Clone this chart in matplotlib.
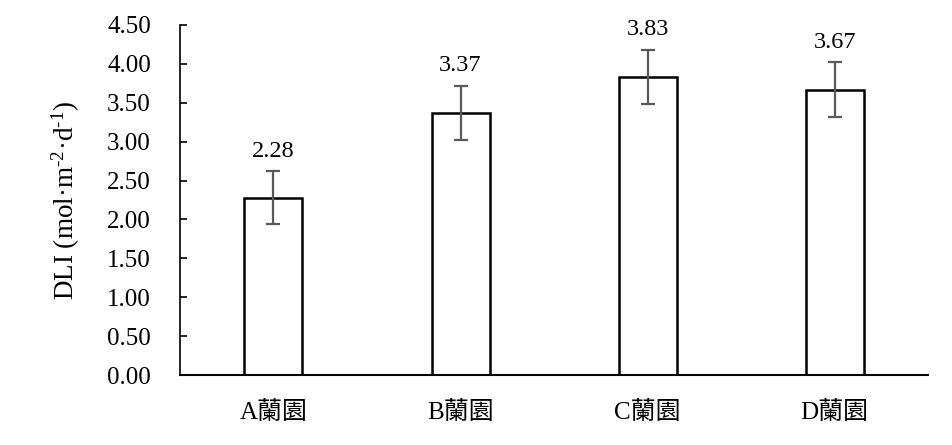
import numpy as np
import matplotlib
matplotlib.use("Agg")
import matplotlib.pyplot as plt

plt.rcParams['font.family'] = ['Liberation Serif', 'Noto Sans CJK TC']
plt.rcParams['mathtext.fontset'] = 'custom'
plt.rcParams['mathtext.rm'] = 'Liberation Serif'
plt.rcParams['mathtext.default'] = 'regular'

categories = ['A蘭園', 'B蘭園', 'C蘭園', 'D蘭園']
dli = [2.28, 3.37, 3.83, 3.67]
dli_err = [0.34, 0.35, 0.35, 0.35]
y_ticks = [0.0, 0.5, 1.0, 1.5, 2.0, 2.5, 3.0, 3.5, 4.0, 4.5]

fig = plt.figure(figsize=(9.52, 4.45), dpi=100)
ax = fig.add_axes([0.189, 0.157, 0.786, 0.787])

x = np.arange(len(categories))
ax.bar(x, dli, width=0.31, color='white', edgecolor='black', linewidth=1.8, zorder=2)
ax.errorbar(x, dli, yerr=dli_err, fmt='none', ecolor='#595959',
            elinewidth=1.6, capsize=5, capthick=1.6, zorder=3)

for xi, v, e in zip(x, dli, dli_err):
    ax.annotate(f"{v:.2f}", (xi, v + e), xytext=(0, 7), textcoords='offset points',
                ha='center', va='bottom', fontsize=17.5)

ax.set_xlim(-0.5, len(categories) - 0.5)
ax.set_ylim(0, 4.5)
ax.set_yticks(y_ticks)
ax.set_yticklabels([f"{t:.2f}" for t in y_ticks], fontsize=18)
ax.set_xticks(x)
ax.set_xticklabels(categories, fontsize=18)
ax.tick_params(axis='x', length=0, pad=19)
ax.tick_params(axis='y', direction='in', length=5, width=1.2, pad=21)

ax.spines['top'].set_visible(False)
ax.spines['right'].set_visible(False)
ax.spines['left'].set_linewidth(1.2)
ax.spines['bottom'].set_linewidth(1.5)

ax.set_ylabel('DLI (mol·m$^{\u20102}$·d$^{\u20101}$)', fontsize=19.5, labelpad=18)

plt.savefig('out.png', dpi=100)
